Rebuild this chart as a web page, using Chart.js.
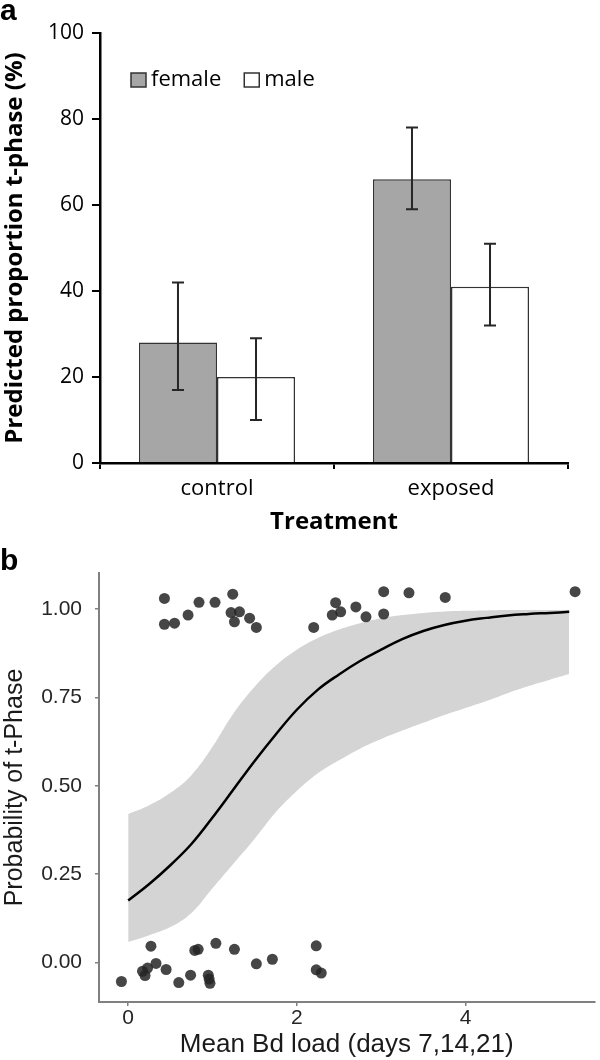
<!DOCTYPE html>
<html>
<head>
<meta charset="utf-8">
<script src="https://cdn.jsdelivr.net/npm/chart.js@4.4.1/dist/chart.umd.min.js"></script>
<style>
  body { margin: 0; background: #fff; }
  #wrap { position: relative; width: 600px; height: 1060px; }
  canvas { position: absolute; left: 0; }
  #barChart { top: 0; }
  #fitChart { top: 540px; }
  .panel { position: absolute; left: 0; font: bold 30px "Liberation Sans", Arial, sans-serif; line-height: 30px; color: #000; }
</style>
</head>
<body>
<div id="wrap">
  <canvas id="barChart" width="600" height="540"></canvas>
  <canvas id="fitChart" width="600" height="520"></canvas>
  <div class="panel" style="top:-5px">a</div>
  <div class="panel" style="top:545px">b</div>
</div>
<script>
// panel a: predicted proportion in t-phase, by treatment and sex
const treatments = ['control', 'exposed'];
const femaleMean = [28, 66];
const femaleLow = [17, 59];
const femaleHigh = [42, 78];
const maleMean = [20, 41];
const maleLow = [10, 32];
const maleHigh = [29, 51];
const barTicks = [0, 20, 40, 60, 80, 100];

// panel b: fitted probability of t-phase vs mean Bd load
const loadGrid = [0, 0.25, 0.5, 0.75, 1, 1.25, 1.5, 1.75, 2, 2.25, 2.5, 2.75, 3, 3.25, 3.5, 3.75, 4, 4.25, 4.5, 4.75, 5, 5.23];
const fitProb  = [0.175, 0.222, 0.275, 0.335, 0.41, 0.49, 0.57, 0.645, 0.715, 0.772, 0.815, 0.853, 0.885, 0.915, 0.938, 0.955, 0.967, 0.975, 0.982, 0.986, 0.989, 0.992];
const fitUpper = [0.42, 0.445, 0.48, 0.53, 0.61, 0.705, 0.78, 0.84, 0.885, 0.918, 0.942, 0.96, 0.974, 0.983, 0.989, 0.993, 0.995, 0.996, 0.997, 0.997, 0.997, 0.997];
const fitLower = [0.058, 0.077, 0.10, 0.14, 0.21, 0.28, 0.35, 0.425, 0.485, 0.535, 0.572, 0.605, 0.632, 0.656, 0.678, 0.70, 0.72, 0.74, 0.762, 0.782, 0.80, 0.816];

// jittered observations (t-phase = 1 on top, 0 at bottom)
const pointLoad = [
  0.43, 0.43, 0.55, 0.71, 0.84, 1.03, 1.24, 1.22, 1.32, 1.26, 1.44, 1.52,
  2.20, 2.46, 2.42, 2.52, 2.70, 2.82, 3.03, 3.03, 3.33, 3.76, 5.30,
  -0.08, 0.27, 0.17, 0.23, 0.20, 0.33, 0.45, 0.60, 0.74, 0.79, 0.83, 0.95,
  0.96, 0.97, 1.04, 1.26, 1.52, 1.71, 2.23, 2.23, 2.29
];
const pointTPhase = [
  1.030, 0.957, 0.960, 0.983, 1.019, 1.019, 1.042, 0.990, 0.992, 0.964, 0.974, 0.948,
  0.948, 1.018, 0.983, 0.992, 1.006, 0.978, 1.049, 0.986, 1.046, 1.033, 1.049,
  -0.054, 0.046, -0.025, -0.016, -0.037, -0.003, -0.020, -0.057, -0.036, 0.034, 0.037, -0.036,
  -0.047, -0.059, 0.054, 0.037, -0.004, 0.009, 0.047, -0.021, -0.030
];
const loadTicks = [0, 2, 4];
const probTicks = [0, 0.25, 0.5, 0.75, 1];

const OPEN = '"Open Sans", sans-serif';
const ARIAL = '"Liberation Sans", Arial, sans-serif';

const errorBars = {
  id: 'errorBars',
  afterDatasetsDraw(chart) {
    const ctx = chart.ctx;
    const y = chart.scales.y;
    ctx.save();
    ctx.strokeStyle = '#262626';
    ctx.lineWidth = 2;
    chart.data.datasets.forEach((ds, i) => {
      chart.getDatasetMeta(i).data.forEach((bar, j) => {
        const top = y.getPixelForValue(ds.errHigh[j]);
        const bot = y.getPixelForValue(ds.errLow[j]);
        ctx.beginPath();
        ctx.moveTo(bar.x, top); ctx.lineTo(bar.x, bot);
        ctx.moveTo(bar.x - 6, top); ctx.lineTo(bar.x + 6, top);
        ctx.moveTo(bar.x - 6, bot); ctx.lineTo(bar.x + 6, bot);
        ctx.stroke();
      });
    });
    ctx.restore();
  }
};

// legend sits inside the plot, top left
const insideLegend = {
  id: 'insideLegend',
  afterDraw(chart) {
    const ctx = chart.ctx;
    const area = chart.chartArea;
    let x = area.left + 31;
    const cy = area.top + 47;
    ctx.save();
    ctx.font = '22px ' + OPEN;
    ctx.textBaseline = 'middle';
    chart.data.datasets.forEach(ds => {
      ctx.fillStyle = ds.backgroundColor;
      ctx.fillRect(x, cy - 7, 15, 14);
      ctx.strokeStyle = ds.borderColor;
      ctx.lineWidth = 1.5;
      ctx.strokeRect(x, cy - 7, 15, 14);
      ctx.fillStyle = '#000';
      ctx.fillText(ds.label, x + 20, cy);
      x += 20 + ctx.measureText(ds.label).width + 23;
    });
    ctx.restore();
  }
};

new Chart(document.getElementById('barChart'), {
  type: 'bar',
  data: {
    labels: treatments,
    datasets: [
      { label: 'female', data: femaleMean, errLow: femaleLow, errHigh: femaleHigh,
        backgroundColor: '#a6a6a6', borderColor: '#333', borderWidth: 1.5 },
      { label: 'male', data: maleMean, errLow: maleLow, errHigh: maleHigh,
        backgroundColor: '#ffffff', borderColor: '#333', borderWidth: 1.5 }
    ]
  },
  options: {
    responsive: false,
    animation: false,
    devicePixelRatio: 1,
    layout: { padding: { top: 33, right: 32, bottom: 0, left: 0 } },
    datasets: { bar: { categoryPercentage: 0.667, barPercentage: 1 } },
    plugins: { legend: { display: false }, tooltip: { enabled: false } },
    scales: {
      x: {
        grid: { offset: true, drawOnChartArea: false, tickLength: 6, color: '#000', lineWidth: 2 },
        border: { color: '#000', width: 2.5 },
        ticks: { color: '#000', font: { family: OPEN, size: 22 }, padding: 7 },
        title: { display: true, text: 'Treatment', color: '#000',
                 font: { family: OPEN, size: 24, weight: 'bold' }, padding: { top: 0, bottom: 3 } },
        afterFit: s => { s.height = 77; }
      },
      y: {
        min: 0,
        max: 100,
        afterBuildTicks: s => { s.ticks = barTicks.map(v => ({ value: v })); },
        grid: { drawOnChartArea: false, tickLength: 8, color: '#000', lineWidth: 2 },
        border: { color: '#000', width: 2.5 },
        ticks: { color: '#000', font: { family: OPEN, size: 21 }, padding: 8 },
        title: { display: true, text: 'Predicted proportion t-phase (%)', color: '#000',
                 font: { family: OPEN, size: 24, weight: 'bold' }, padding: { top: 1, bottom: 0 } },
        afterFit: s => { s.width = 100; }
      }
    }
  },
  plugins: [errorBars, insideLegend]
});

const toXY = (xs, ys) => xs.map((x, i) => ({ x: x, y: ys[i] }));

new Chart(document.getElementById('fitChart'), {
  type: 'scatter',
  data: {
    datasets: [
      { label: 'observed', data: toXY(pointLoad, pointTPhase),
        backgroundColor: 'rgba(38,38,38,0.85)', borderWidth: 0, pointRadius: 5.5, order: 0 },
      { label: 'fit', data: toXY(loadGrid, fitProb), showLine: true,
        borderColor: '#000', borderWidth: 2.5, pointRadius: 0, tension: 0.4, order: 1 },
      { label: 'lower', data: toXY(loadGrid, fitLower), showLine: true,
        borderColor: 'rgba(0,0,0,0)', borderWidth: 0, pointRadius: 0, tension: 0.4, order: 3 },
      { label: 'upper', data: toXY(loadGrid, fitUpper), showLine: true,
        borderColor: 'rgba(0,0,0,0)', borderWidth: 0, pointRadius: 0, tension: 0.4,
        fill: 2, backgroundColor: '#d4d4d4', order: 2 }
    ]
  },
  options: {
    responsive: false,
    animation: false,
    devicePixelRatio: 1,
    layout: { padding: { top: 33, right: 4, bottom: 0, left: 0 } },
    plugins: { legend: { display: false }, tooltip: { enabled: false } },
    scales: {
      x: {
        type: 'linear',
        min: -0.346,
        max: 5.53,
        afterBuildTicks: s => { s.ticks = loadTicks.map(v => ({ value: v })); },
        grid: { drawOnChartArea: false, tickLength: 4, color: '#808080', lineWidth: 1.5 },
        border: { color: '#808080', width: 2 },
        ticks: { color: '#262626', font: { family: ARIAL, size: 21 }, padding: 0 },
        title: { display: true, text: 'Mean Bd load (days 7,14,21)', color: '#1a1a1a',
                 font: { family: ARIAL, size: 26 }, padding: 0 },
        afterFit: s => { s.height = 58; }
      },
      y: {
        min: -0.112,
        max: 1.102,
        afterBuildTicks: s => { s.ticks = probTicks.map(v => ({ value: v })); },
        grid: { drawOnChartArea: false, tickLength: 4, color: '#808080', lineWidth: 1.5 },
        border: { color: '#808080', width: 2 },
        ticks: { color: '#262626', font: { family: ARIAL, size: 21 }, padding: 13,
                 callback: v => v.toFixed(2) },
        title: { display: true, text: 'Probability of t-Phase', color: '#1a1a1a',
                 font: { family: ARIAL, size: 25 }, padding: 0 },
        afterFit: s => { s.width = 99; }
      }
    }
  }
});
</script>
</body>
</html>
